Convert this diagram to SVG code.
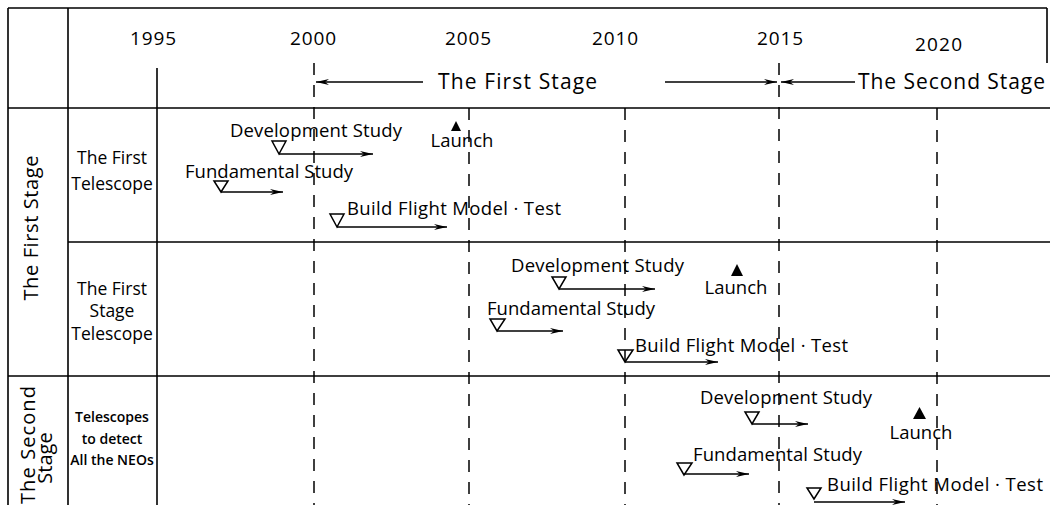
<svg xmlns="http://www.w3.org/2000/svg" width="1050" height="505" viewBox="0 0 1050 505">
<defs>
<style>
.frame{stroke:#000;stroke-width:1.6;fill:none}
.dash{stroke:#000;stroke-width:1.5;fill:none;stroke-dasharray:12 10}
.solid{stroke:#000;stroke-width:1.6;fill:none}
.arr{stroke:#000;stroke-width:1.3;fill:none;marker-end:url(#ah)}
.t{font-family:"Open Sans","DejaVu Sans",sans-serif;fill:#000}
.yr{font-size:19px}
.hd{font-size:21px}
.lb{font-size:17.5px}
.sm{font-size:14px;font-weight:600}
.task{font-size:18.5px}
.tri{fill:none;stroke:#000;stroke-width:1.5}
.lau{fill:#000}
</style>
<marker id="ah" markerUnits="userSpaceOnUse" markerWidth="14" markerHeight="8" refX="13" refY="4" orient="auto">
<path d="M0,1 L13,4 L0,7 L4,4 Z" fill="#000"/>
</marker>
</defs>
<rect width="1050" height="505" fill="#fff"/>

<g id="grid">
<path class="frame" d="M8,8 H1047 M1047,8 V63 M8,8 V505 M68,8 V505 M8,108 H1050 M68,242 H1050 M8,376 H1050"/>
<path class="solid" d="M157,68 V505"/>
<path class="dash" d="M314,63 V505"/>
<path class="dash" d="M469,108 V505"/>
<path class="dash" d="M625,108 V505"/>
<path class="dash" d="M779,63 V505"/>
<path class="dash" d="M937,108 V505"/>
</g>

<g id="years" class="t yr">
<text x="130" y="45" textLength="46">1995</text>
<text x="290" y="45" textLength="46">2000</text>
<text x="445" y="45" textLength="46">2005</text>
<text x="592" y="45" textLength="46">2010</text>
<text x="757" y="45" textLength="46">2015</text>
<text x="915" y="51" textLength="47">2020</text>
</g>

<g id="stage-header" class="t hd">
<text x="438" y="89" textLength="159">The First Stage</text>
<text x="858" y="89" textLength="187">The Second Stage</text>
</g>

<g id="stage-labels" class="t">
<text transform="translate(38,228) rotate(-90)" text-anchor="middle" style="font-size:20px" textLength="145">The First Stage</text>
<text style="font-size:20px" transform="translate(35,445) rotate(-90)" text-anchor="middle" textLength="118">The Second</text>
<text style="font-size:20px" transform="translate(52,458) rotate(-90)" text-anchor="middle">Stage</text>
</g>

<g id="telescope-labels" class="t lb" text-anchor="middle">
<text x="112" y="164">The First</text>
<text x="112" y="190">Telescope</text>
<text x="112" y="295">The First</text>
<text x="112" y="317">Stage</text>
<text x="112" y="340">Telescope</text>
<text class="sm" x="112" y="422">Telescopes</text>
<text class="sm" x="112" y="444">to detect</text>
<text class="sm" x="112" y="465">All the NEOs</text>
</g>

<g id="row1" class="t task">
<g id="r1-dev"><text x="230" y="137" textLength="172">Development Study</text><polygon class="tri" points="272,141 286,141 279,154"/></g>
<g id="r1-launch"><polygon class="lau" points="451,131 461,131 456,121"/><text x="462" y="147" text-anchor="middle">Launch</text></g>
<g id="r1-fund"><text x="185" y="178" textLength="168">Fundamental Study</text><polygon class="tri" points="214,181 228,181 221,192"/></g>
<g id="r1-build"><text x="347" y="215" textLength="214">Build Flight Model · Test</text><polygon class="tri" points="330,214 344,214 337,227"/></g>
</g>

<g id="row2" class="t task">
<g id="r2-dev"><text x="511" y="272" textLength="173">Development Study</text><polygon class="tri" points="552,277 566,277 559,289"/></g>
<g id="r2-launch"><polygon class="lau" points="731,276 743,276 737,264"/><text x="736" y="294" text-anchor="middle">Launch</text></g>
<g id="r2-fund"><text x="487" y="315" textLength="168">Fundamental Study</text><polygon class="tri" points="490,319 505,319 497,331"/></g>
<g id="r2-build"><text x="635" y="352" textLength="213">Build Flight Model · Test</text><polygon class="tri" points="618,350 633,350 625,362"/></g>
</g>

<g id="row3" class="t task">
<g id="r3-dev"><text x="700" y="404" textLength="172">Development Study</text><polygon class="tri" points="745,412 759,412 752,424"/></g>
<g id="r3-launch"><polygon class="lau" points="913,419 926,419 919.5,407"/><text x="921" y="439" text-anchor="middle">Launch</text></g>
<g id="r3-fund"><text x="693" y="461" textLength="169">Fundamental Study</text><polygon class="tri" points="677,463 692,463 684,475"/></g>
<g id="r3-build"><text x="827" y="491" textLength="216">Build Flight Model · Test</text><polygon class="tri" points="807,488 821,488 814,499"/></g>
</g>

<g id="connectors">
<line class="arr" x1="423" y1="82" x2="316" y2="82"/>
<line class="arr" x1="665" y1="82" x2="777" y2="82"/>
<line class="arr" x1="855" y1="82" x2="781" y2="82"/>
<line class="arr" x1="279" y1="154" x2="373" y2="154"/>
<line class="arr" x1="221" y1="192" x2="283" y2="192"/>
<line class="arr" x1="337" y1="227" x2="447" y2="227"/>
<line class="arr" x1="559" y1="289" x2="655" y2="289"/>
<line class="arr" x1="497" y1="331" x2="563" y2="331"/>
<line class="arr" x1="625" y1="362" x2="718" y2="362"/>
<line class="arr" x1="752" y1="424" x2="808" y2="424"/>
<line class="arr" x1="684" y1="474" x2="749" y2="474"/>
<line class="arr" x1="814" y1="502" x2="905" y2="502"/>
</g>
</svg>
